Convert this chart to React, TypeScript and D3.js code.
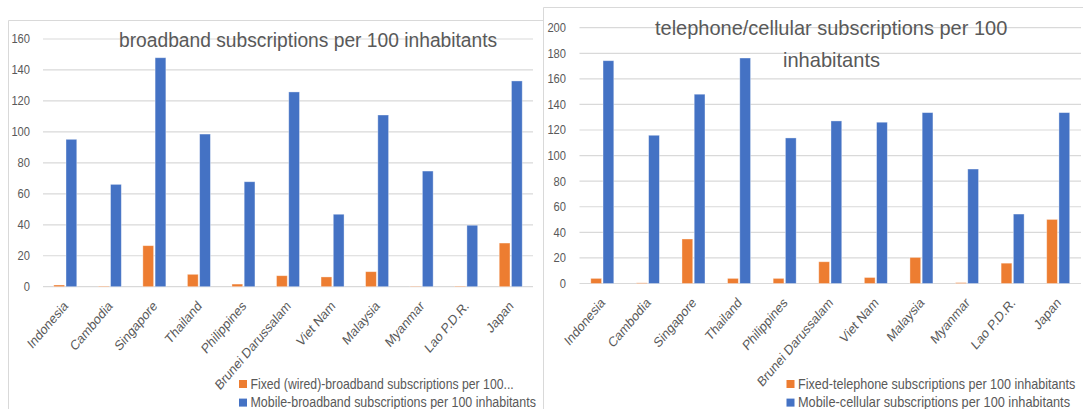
import React, { useLayoutEffect, useRef, useState } from "react";
import * as d3 from "d3";

const countries = [
  "Indonesia",
  "Cambodia",
  "Singapore",
  "Thailand",
  "Philippines",
  "Brunei Darussalam",
  "Viet Nam",
  "Malaysia",
  "Myanmar",
  "Lao P.D.R.",
  "Japan",
];

// Broadband subscriptions per 100 inhabitants
const fixedBroadband = [1.1, 0.4, 26.5, 8.0, 1.7, 7.1, 6.3, 9.7, 0.3, 0.4, 28.2];
const mobileBroadband = [95.2, 66.1, 147.9, 98.6, 67.8, 125.8, 46.8, 110.9, 74.7, 39.7, 132.9];

// Telephone / cellular subscriptions per 100 inhabitants
const fixedTelephone = [4.0, 0.5, 34.8, 4.0, 4.0, 17.0, 4.7, 20.4, 0.7, 15.9, 50.1];
const mobileCellular = [174.2, 115.9, 148.0, 176.3, 113.8, 127.1, 126.1, 133.6, 89.5, 54.3, 133.6];

const broadbandTicks = [0, 20, 40, 60, 80, 100, 120, 140, 160];
const cellularTicks = [0, 20, 40, 60, 80, 100, 120, 140, 160, 180, 200];

const ORANGE = "#ED7D31";
const BLUE = "#4472C4";
const TEXT = "#595959";
const GRID = "#d9d9d9";
const FONT = "'Liberation Sans', Arial, sans-serif";

// Text squeezed horizontally so that it spans a given width (the chart font is narrow).
function FitText(props: {
  x: number;
  y: number;
  width: number;
  size: number;
  anchor?: "start" | "end";
  dy?: string;
  children: string;
}) {
  const ref = useRef<SVGTextElement>(null);
  const [sx, setSx] = useState(0.8);
  useLayoutEffect(() => {
    if (ref.current) {
      const w = ref.current.getComputedTextLength();
      if (w > 0) setSx(props.width / w);
    }
  }, [props.width, props.children, props.size]);
  return (
    <text
      ref={ref}
      transform={`translate(${props.x},${props.y}) scale(${sx},1)`}
      dy={props.dy}
      textAnchor={props.anchor ?? "start"}
      fontSize={props.size}
      fill={TEXT}
      fontFamily={FONT}
    >
      {props.children}
    </text>
  );
}

type Legend = { label: string; color: string; len: number };

type PanelProps = {
  fixed: number[];
  mobile: number[];
  ticks: number[];
  yMax: number;
  x0: number;
  x1: number;
  yTop: number;
  yBottom: number;
  labelRight: number;
  titleLines: { text: string; x: number; y: number; len: number }[];
  legends: Legend[];
  legendX: number;
  legendY: number;
};

function Panel(p: PanelProps) {
  const x = d3.scaleBand<string>().domain(countries).range([p.x0, p.x1]).paddingInner(0).paddingOuter(0);
  const inner = d3.scaleBand<string>().domain(["fixed", "mobile"]).range([-11.5, 11.5]).paddingInner(0.12);
  const y = d3.scaleLinear().domain([0, p.yMax]).range([p.yBottom, p.yTop]);
  const series = [
    { key: "fixed", values: p.fixed, color: ORANGE },
    { key: "mobile", values: p.mobile, color: BLUE },
  ];
  return (
    <g>
      {p.ticks.map((t) => (
        <g key={t}>
          <line x1={p.x0} x2={p.x1} y1={y(t)} y2={y(t)} stroke={GRID} strokeWidth={1.2} />
          <FitText
            x={p.labelRight}
            y={y(t)}
            dy="0.35em"
            anchor="end"
            size={12.5}
            width={String(t).length * 6.2}
          >
            {String(t)}
          </FitText>
        </g>
      ))}
      {countries.map((c, i) => {
        const cx = (x(c) as number) + x.bandwidth() / 2;
        return (
          <g key={c}>
            {series.map((s) => (
              <rect
                key={s.key}
                x={cx + (inner(s.key) as number)}
                width={inner.bandwidth()}
                y={y(s.values[i])}
                height={y(0) - y(s.values[i])}
                fill={s.color}
                stroke="#ffffff"
                strokeOpacity={0.45}
                strokeWidth={0.8}
              />
            ))}
            <text
              transform={`translate(${cx + 0.5},${p.yBottom + 16.5}) scale(0.85,1) rotate(-45)`}
              dy="0.35em"
              textAnchor="end"
              fontSize={14}
              fill={TEXT}
              fontFamily={FONT}
            >
              {c}
            </text>
          </g>
        );
      })}
      {p.titleLines.map((t) => (
        <FitText key={t.text} x={t.x} y={t.y} size={21} width={t.len}>
          {t.text}
        </FitText>
      ))}
      {p.legends.map((l, i) => (
        <g key={l.label} transform={`translate(${p.legendX},${p.legendY + i * 18.6})`}>
          <rect x={0} y={0} width={8} height={8} fill={l.color} />
          <FitText x={11.5} y={8.6} size={14} width={l.len}>
            {l.label}
          </FitText>
        </g>
      ))}
    </g>
  );
}

export default function App() {
  return (
    <svg
      width={1083}
      height={409}
      style={{ position: "absolute", left: 0, top: 0, background: "#ffffff" }}
    >
      <rect x={0} y={0} width={1083} height={409} fill="#ffffff" />
      {/* chart frames */}
      <line x1={8.5} x2={543.5} y1={20.5} y2={20.5} stroke={GRID} />
      <line x1={8.5} x2={8.5} y1={20.5} y2={409} stroke={GRID} />
      <line x1={543.5} x2={1083} y1={7.5} y2={7.5} stroke={GRID} />
      <line x1={543.5} x2={543.5} y1={7.5} y2={409} stroke={GRID} />

      <Panel
        fixed={fixedBroadband}
        mobile={mobileBroadband}
        ticks={broadbandTicks}
        yMax={160}
        x0={43}
        x1={533}
        yTop={39}
        yBottom={286.7}
        labelRight={30}
        titleLines={[{ text: "broadband subscriptions per 100 inhabitants", x: 119, y: 46.7, len: 378 }]}
        legends={[
          { label: "Fixed (wired)-broadband subscriptions per 100...", color: ORANGE, len: 263 },
          { label: "Mobile-broadband subscriptions per 100 inhabitants", color: BLUE, len: 285 },
        ]}
        legendX={239}
        legendY={380}
      />
      <Panel
        fixed={fixedTelephone}
        mobile={mobileCellular}
        ticks={cellularTicks}
        yMax={200}
        x0={579.5}
        x1={1081}
        yTop={27.7}
        yBottom={283.5}
        labelRight={566}
        titleLines={[
          { text: "telephone/cellular subscriptions per 100", x: 655, y: 35, len: 352 },
          { text: "inhabitants", x: 783, y: 66.7, len: 97 },
        ]}
        legends={[
          { label: "Fixed-telephone subscriptions per 100 inhabitants", color: ORANGE, len: 277 },
          { label: "Mobile-cellular subscriptions per 100 inhabitants", color: BLUE, len: 272 },
        ]}
        legendX={786.5}
        legendY={380}
      />
    </svg>
  );
}
